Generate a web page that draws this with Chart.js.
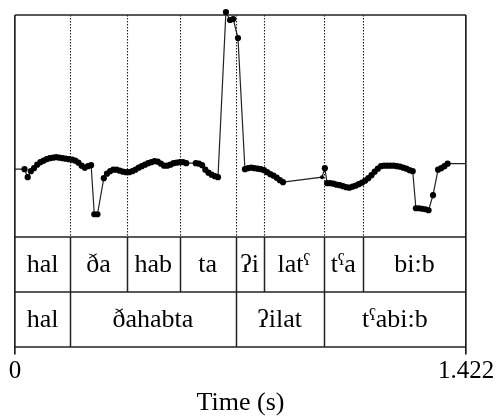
<!DOCTYPE html>
<html>
<head>
<meta charset="utf-8">
<script src="https://cdn.jsdelivr.net/npm/chart.js@4.4.1/dist/chart.umd.min.js"></script>
<style>
html,body{margin:0;padding:0;background:#fff;}
#wrap{width:497px;height:417px;}
</style>
</head>
<body>
<div id="wrap"><canvas id="c" width="497" height="417"></canvas></div>
<script>
// ---- data ----
const xTicks = [0, 1.422];
const pitchRange = [50, 494]; // Hz shown in the pitch panel (no labels in the original)

const times = [0, 0.03,0.04,0.05,0.06,0.07,0.08,0.09,0.10,0.11,0.12,0.13,0.14,0.15,0.16,0.17,0.18,0.19,0.20,0.21,0.22,0.23,0.24,
  0.25,0.26,
  0.28,0.29,0.30,0.31,0.32,0.33,0.34,0.35,0.36,0.37,0.38,0.39,0.40,0.41,0.42,0.43,0.44,0.45,0.46,0.47,0.48,0.49,0.50,0.51,0.52,0.53,0.54,
  0.57,0.58,0.59,0.60,0.61,0.62,0.63,0.64,
  0.665,0.678,0.688,0.703,
  0.725,0.735,0.745,0.755,0.765,0.775,0.785,0.795,0.805,0.815,0.825,0.835,0.845,
  0.968,0.977,
  0.984,0.994,1.004,1.014,1.024,1.034,1.044,1.054,1.064,1.074,1.084,1.094,1.104,1.114,1.124,1.134,1.144,1.154,1.164,1.174,1.184,1.194,1.204,1.214,1.224,1.234,1.244,1.254,
  1.264,1.274,1.284,1.294,1.304,
  1.318,1.334,1.344,1.354,1.364,
  1.422];
const f0Hz = [186, 186,170,182,188,195,200,203,206,208,209,210,209,208,207,206,205,203,199,193,189,192,194,
  96,96,
  168,177,182,185,185,183,181,180,180,182,185,189,192,195,198,200,202,201,197,193,193,195,198,199,200,200,198,
  198,197,194,185,179,175,172,170,
  500,484,486,448,
  186,188,189,188,187,186,184,180,176,173,169,164,160,
  170,188,
  158,158,157,155,154,152,150,149,151,153,156,159,163,168,174,181,187,192,193,193,193,193,192,191,189,187,184,182,
  108,108,107,106,104,
  134,185,188,192,197,
  197];

const tier1Bounds = [0.174, 0.353, 0.519, 0.696, 0.784, 0.973, 1.097];
const tier1Labels = ["hal", "ða", "hab", "ta", "ʔi", "latˤ", "tˤa", "bi:b"];
const tier2Bounds = [0.174, 0.696, 0.973];
const tier2Labels = ["hal", "ðahabta", "ʔilat", "tˤabi:b"];
const axisTitle = "Time (s)";

// ---- chart ----
const FONT = '"Times New Roman", "Liberation Serif", "DejaVu Serif", serif';
const tierShare = 110 / 222; // tiers height relative to pitch panel height
const yMin = pitchRange[0] - (pitchRange[1] - pitchRange[0]) * tierShare;

const points = times.map((t, i) => ({x: t, y: f0Hz[i]}));
const radii = times.map((t, i) => (i === 0 || i === times.length - 1) ? 0 : (t === 0.968 ? 2 : 3.1));

const tiersPlugin = {
  id: 'tiers',
  beforeDatasetsDraw(chart) {
    const {ctx, chartArea: {left, right, top, bottom}, scales: {x, y}} = chart;
    const yP = Math.round(y.getPixelForValue(pitchRange[0]));
    const y1 = Math.round(yP + (bottom - yP) / 2);
    const bot = Math.round(bottom);
    const px = t => Math.round(x.getPixelForValue(t)) + 0.5;
    const line = (x0, y0, x1_, y1_) => { ctx.beginPath(); ctx.moveTo(x0, y0); ctx.lineTo(x1_, y1_); ctx.stroke(); };
    ctx.save();
    // dotted boundary lines in the pitch panel
    ctx.setLineDash([1.5, 1.5]);
    ctx.lineWidth = 1.1;
    ctx.strokeStyle = '#222';
    tier1Bounds.forEach(t => line(px(t), top, px(t), yP));
    ctx.setLineDash([]);
    // horizontal rules
    ctx.lineWidth = 1.7;
    ctx.strokeStyle = '#222';
    [Math.round(top), yP, y1, bot].forEach(yy => line(left, yy, right, yy));
    // tier boundaries
    ctx.lineWidth = 1.5;
    tier1Bounds.forEach(t => line(px(t), yP, px(t), y1));
    tier2Bounds.forEach(t => line(px(t), y1, px(t), bot));
    // labels
    ctx.fillStyle = '#000';
    ctx.font = '26px ' + FONT;
    ctx.textAlign = 'center';
    ctx.textBaseline = 'middle';
    const drawTier = (bounds, labels, yc) => {
      const edges = [xTicks[0], ...bounds, xTicks[1]];
      labels.forEach((lab, i) => {
        const cx = (x.getPixelForValue(edges[i]) + x.getPixelForValue(edges[i + 1])) / 2;
        ctx.fillText(lab, cx, yc);
      });
    };
    drawTier(tier1Bounds, tier1Labels, (yP + y1) / 2 + 1);
    drawTier(tier2Bounds, tier2Labels, (y1 + bot) / 2 + 1);
    ctx.restore();
  }
};

new Chart(document.getElementById('c'), {
  type: 'line',
  data: {
    datasets: [{
      data: points,
      borderColor: '#222',
      borderWidth: 1.2,
      pointRadius: radii,
      pointBackgroundColor: '#000',
      pointBorderWidth: 0,
      pointHoverRadius: 0,
      tension: 0,
      clip: false,
      fill: false
    }]
  },
  options: {
    responsive: false,
    animation: false,
    devicePixelRatio: 1,
    layout: {padding: {left: 15, right: 31, top: 15, bottom: 0}},
    plugins: {legend: {display: false}, tooltip: {enabled: false}},
    scales: {
      x: {
        type: 'linear',
        min: xTicks[0],
        max: xTicks[1],
        afterBuildTicks: s => { s.ticks = xTicks.map(v => ({value: v})); },
        ticks: {
          autoSkip: false,
          maxRotation: 0,
          padding: 2,
          color: '#000',
          font: {family: FONT, size: 25},
          callback: v => String(v)
        },
        grid: {display: true, drawOnChartArea: true, drawTicks: true, tickLength: 7, color: '#222', lineWidth: 1.7},
        border: {display: false},
        title: {display: true, text: axisTitle, color: '#000', padding: 0, font: {family: FONT, size: 26, lineHeight: 1.1}}
      },
      y: {display: false, min: yMin, max: pitchRange[1]}
    }
  },
  plugins: [tiersPlugin]
});
</script>
</body>
</html>
